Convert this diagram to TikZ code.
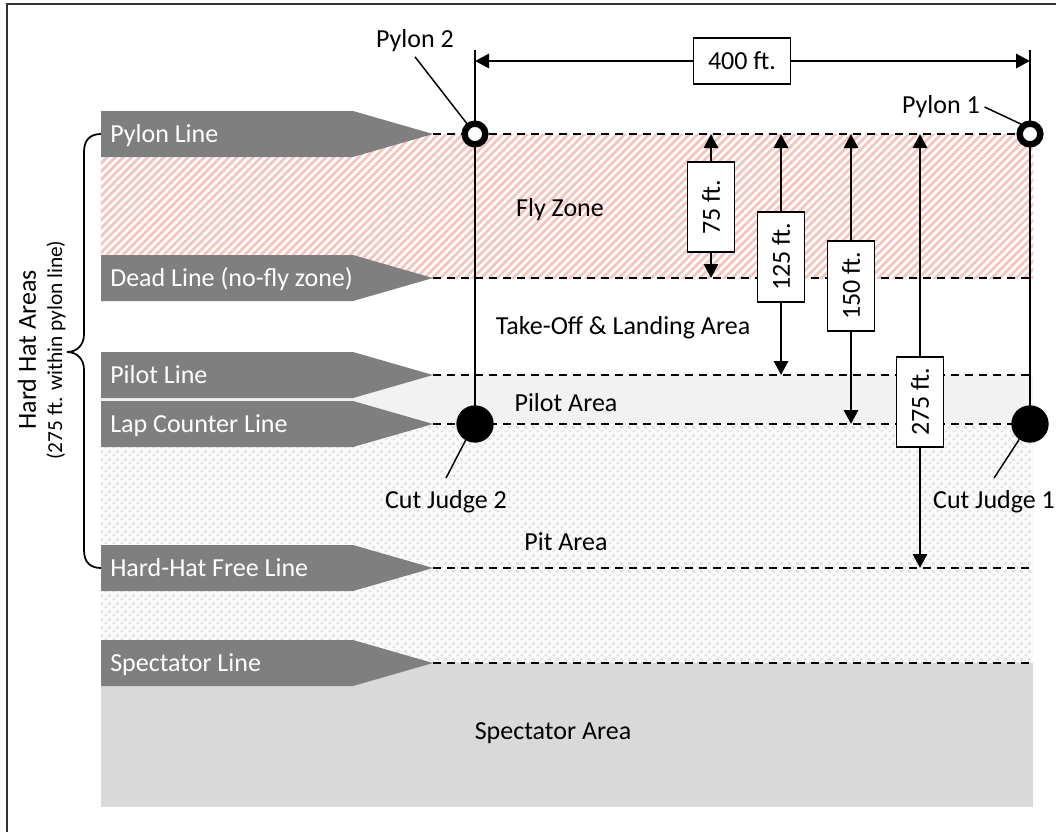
\documentclass[tikz,border=0pt]{standalone}
\usepackage{fontspec}
\setmainfont{Carlito}
\usetikzlibrary{arrows.meta,patterns.meta,calc}
\definecolor{bannergray}{RGB}{127,127,127}
\definecolor{hatchpink}{RGB}{246,196,190}
\definecolor{pilotgray}{RGB}{242,242,242}
\definecolor{pitbg}{RGB}{251,251,251}
\definecolor{pitdot}{RGB}{228,228,228}
\definecolor{specgray}{RGB}{217,217,217}
\pgfdeclarepatternformonly{pitdots}{\pgfpointorigin}{\pgfqpoint{6pt}{6pt}}{\pgfqpoint{6pt}{6pt}}{%
  \pgfpathrectangle{\pgfqpoint{0.5pt}{0.5pt}}{\pgfqpoint{2.2pt}{2.2pt}}%
  \pgfpathrectangle{\pgfqpoint{3.5pt}{3.5pt}}{\pgfqpoint{2.2pt}{2.2pt}}%
  \pgfusepath{fill}}
\begin{document}
\begin{tikzpicture}[x=0.75pt,y=-0.75pt,
  font=\fontsize{19.5}{23}\selectfont,
  bannershape/.style={fill=bannergray},
  bannertext/.style={anchor=base west,text=white,inner sep=0pt},
  dashline/.style={line width=1.1pt,dash pattern=on 6pt off 4.5pt},
  pylonline/.style={line width=1.4pt},
  pyloncirc/.style={circle,draw=black,line width=4.8pt,fill=white,minimum size=15.5pt,inner sep=0pt,outer sep=0pt},
  judgecirc/.style={circle,fill=black,minimum size=28pt,inner sep=0pt,outer sep=0pt},
  leader/.style={line width=1.1pt},
  dimarrow/.style={line width=2.2pt,-{Triangle[width=10.5pt,length=10.5pt]}},
  dimbox/.style={draw=black,line width=0.8pt,fill=white,inner sep=1pt},
  vbox/.style={dimbox,rotate=90,minimum width=67.5pt,minimum height=35pt},
  bracestyle/.style={line width=1.3pt},
  smalltext/.style={font=\fontsize{16}{19}\selectfont}
]
\useasboundingbox (0,0) rectangle (1056,832);
% frame
\draw[line width=1.2pt,black!80] (7,832) -- (7,4) -- (1056,4);

% areas
\fill[pattern={Lines[angle=45,distance=4.3pt,line width=2.1pt]},pattern color=hatchpink] (101,134) rectangle (1033,278);
\fill[pilotgray] (101,375) rectangle (1033,424);
\fill[pitbg] (101,424) rectangle (1033,663);
\fill[pattern=pitdots,pattern color=pitdot] (101,424) rectangle (1033,663);
\fill[specgray] (101,663) rectangle (1033,807);

% banners and lines
\foreach \yy/\txt/\nm in {134/{Pylon Line}/pylon, 278/{Dead Line (no-fly zone)}/dead, 375/{Pilot Line}/pilot, 424/{Lap Counter Line}/lap, 568/{Hard-Hat Free Line}/hhf, 663/{Spectator Line}/spec}{
  \fill[bannershape] (101,\yy-23) -- (353,\yy-23) -- (433,\yy) -- (353,\yy+23) -- (101,\yy+23) -- cycle;
  \node[bannertext] (lbl\nm) at (110,\yy+8.5) {\txt};
  \coordinate (tip\nm) at (433,\yy);
  \coordinate (end\nm) at (1031,\yy);
  \draw[dashline] (tip\nm) -- (end\nm);
}

% area labels
\node (fly) at (560,210) {Fly Zone};
\node (tol) at (623,328) {Take-Off \& Landing Area};
\node (pilotA) at (566,403) {Pilot Area};
\node (pitA) at (566,542) {Pit Area};
\node (specA) at (553,733) {Spectator Area};

% pylon verticals
\coordinate (top2) at (475,50);
\coordinate (base2) at (475,424);
\coordinate (top1) at (1030,50);
\coordinate (base1) at (1030,424);
\draw[pylonline] (top2) -- (base2);
\draw[pylonline] (top1) -- (base1);

% pylons and judges
\node[pyloncirc] (p2) at (475,134) {};
\node[pyloncirc] (p1) at (1030,134) {};
\node[judgecirc] (cj2) at (475,424) {};
\node[judgecirc] (cj1) at (1030,424) {};

\node (lblP2) at (415,41) {Pylon 2};
\node (lblP1) at (941,107) {Pylon 1};
\node (lblCJ2) at (446,502) {Cut Judge 2};
\node (lblCJ1) at (994,502) {Cut Judge 1};
\draw[leader] (lblP2.south) -- (p2);
\draw[leader] (lblP1.east) -- (p1.125);
\draw[leader] (cj2.240) -- ($(lblCJ2.north)+(0,-8)$);
\draw[leader] (cj1.235) -- ($(lblCJ1.north)+(0,-8)$);

% 400 ft dimension
\node[dimbox,minimum width=73pt,minimum height=34.5pt] (d400) at (742,61) {400 ft.};
\coordinate (l400) at (475,61);
\coordinate (r400) at (1030,61);
\draw[dimarrow] (d400) -- (l400);
\draw[dimarrow] (d400) -- (r400);

% vertical dimensions
\node[vbox] (d75) at (711,207) {75 ft.};
\coordinate (t75) at (711,134);
\coordinate (b75) at (711,278);
\draw[dimarrow] (d75) -- (t75);
\draw[dimarrow] (d75) -- (b75);

\node[vbox] (d125) at (781,257) {125 ft.};
\coordinate (t125) at (781,134);
\coordinate (b125) at (781,375);
\draw[dimarrow] (d125) -- (t125);
\draw[dimarrow] (d125) -- (b125);

\node[vbox] (d150) at (851,286) {150 ft.};
\coordinate (t150) at (851,134);
\coordinate (b150) at (851,424);
\draw[dimarrow] (d150) -- (t150);
\draw[dimarrow] (d150) -- (b150);

\node[vbox] (d275) at (920,402) {275 ft.};
\coordinate (t275) at (920,134);
\coordinate (b275) at (920,568);
\draw[dimarrow] (d275) -- (t275);
\draw[dimarrow] (d275) -- (b275);

% brace and hard hat labels
\draw[bracestyle] (101,134) .. controls (90,134) and (84,140) .. (84,152) -- (84,334)
  .. controls (84,346) and (76,352) .. (67,352)
  .. controls (76,352) and (84,358) .. (84,370) -- (84,550)
  .. controls (84,562) and (90,568) .. (101,568);
\node[rotate=90] (hha) at (27,350) {Hard Hat Areas};
\node[rotate=90,smalltext] (hhs) at (56,350) {(275 ft. within pylon line)};
\end{tikzpicture}
\end{document}
